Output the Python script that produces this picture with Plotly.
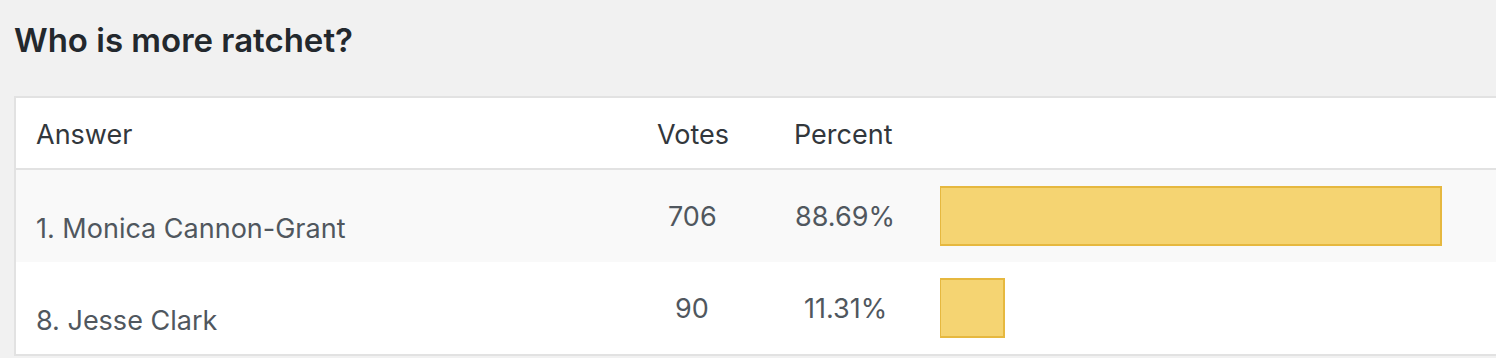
import plotly.graph_objects as go

W, H = 1496, 358

title = "Who is more ratchet?"
headers = ["Answer", "Votes", "Percent"]
answers = ["1. Monica Cannon-Grant", "8. Jesse Clark"]
votes = [706, 90]
percents = [88.69, 11.31]

FONT = "Inter"
PAGE_BG = "#f1f1f1"
BORDER = "#e2e2e2"
TITLE_C = "#23282d"
HEAD_C = "#32373c"
TEXT_C = "#50575e"
BAR_FILL = "#f5d472"
BAR_LINE = "#e6b83f"


def px(x):
    return x / W


def py(y):
    return 1 - y / H


fig = go.Figure()

fig.add_trace(go.Bar(
    x=percents,
    y=list(range(len(answers))),
    orientation="h",
    width=0.64,
    marker=dict(color=BAR_FILL, line=dict(color=BAR_LINE, width=2)),
    hoverinfo="skip",
    showlegend=False,
))

shapes = []
# table border block
shapes.append(dict(type="rect", xref="paper", yref="paper", x0=px(14), x1=1.02,
                   y0=py(356), y1=py(96), fillcolor=BORDER, line=dict(width=0), layer="below"))
# header
shapes.append(dict(type="rect", xref="paper", yref="paper", x0=px(16), x1=1.02,
                   y0=py(168), y1=py(98), fillcolor="#ffffff", line=dict(width=0), layer="below"))
# rows
row_top = 170
row_h = 92
for i in range(len(answers)):
    bg = "#f9f9f9" if i % 2 == 0 else "#ffffff"
    y_top = row_top + i * row_h
    y_bot = y_top + row_h if i < len(answers) - 1 else 354
    shapes.append(dict(type="rect", xref="paper", yref="paper", x0=px(16), x1=1.02,
                       y0=py(y_bot), y1=py(y_top), fillcolor=bg, line=dict(width=0), layer="below"))

annotations = []
annotations.append(dict(text=title, xref="paper", yref="paper", x=px(12), y=py(40),
                        xanchor="left", yanchor="middle", showarrow=False,
                        font=dict(family=FONT, size=33, color=TITLE_C, weight=600)))

head_x = [(px(34), "left"), (px(693), "center"), (px(843), "center")]
for h, (hx, anc) in zip(headers, head_x):
    annotations.append(dict(text=h, xref="paper", yref="paper", x=hx, y=py(134),
                            xanchor=anc, yanchor="middle", showarrow=False,
                            font=dict(family=FONT, size=27, color=HEAD_C)))

for i, (a, v, p) in enumerate(zip(answers, votes, percents)):
    annotations.append(dict(text=a, xref="paper", yref="y", x=px(34), y=i + 0.14,
                            xanchor="left", yanchor="middle", showarrow=False,
                            font=dict(family=FONT, size=27, color=TEXT_C)))
    annotations.append(dict(text=str(v), xref="paper", yref="y", x=px(692), y=i,
                            xanchor="center", yanchor="middle", showarrow=False,
                            font=dict(family=FONT, size=27, color=TEXT_C)))
    annotations.append(dict(text=f"{p:.2f}%", xref="paper", yref="y", x=px(845), y=i,
                            xanchor="center", yanchor="middle", showarrow=False,
                            font=dict(family=FONT, size=27, color=TEXT_C)))

scale_px = 565.0
x0_px = 940.0
fig.update_layout(
    width=W, height=H,
    margin=dict(l=0, r=0, t=0, b=0),
    paper_bgcolor=PAGE_BG,
    plot_bgcolor="rgba(0,0,0,0)",
    shapes=shapes,
    annotations=annotations,
    xaxis=dict(domain=[px(x0_px), 1], range=[0, 100 * (W - x0_px) / scale_px],
               showgrid=False, zeroline=False, showticklabels=False, showline=False,
               fixedrange=True),
    yaxis=dict(domain=[py(354), py(170)], range=[len(answers) - 0.5, -0.5],
               showgrid=False, zeroline=False, showticklabels=False, showline=False,
               fixedrange=True),
    bargap=0,
)

fig.write_html("out.html", config={"displayModeBar": False})
